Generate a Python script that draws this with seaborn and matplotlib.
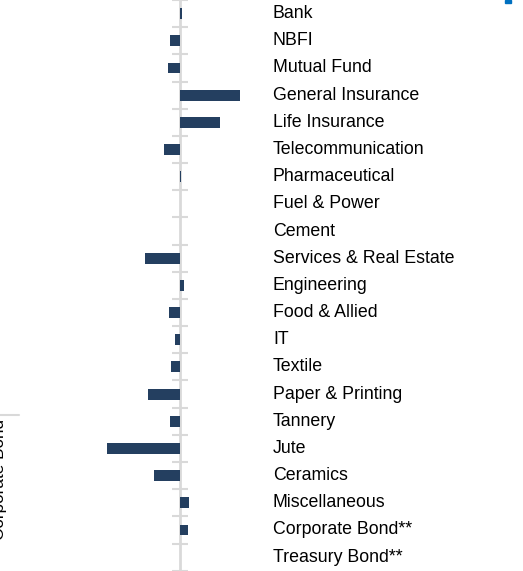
import matplotlib
matplotlib.use('Agg')
import matplotlib.pyplot as plt
import matplotlib.transforms as mtransforms
from matplotlib.patches import Rectangle
import pandas as pd
import seaborn as sns

sectors = ['Bank', 'NBFI', 'Mutual Fund', 'General Insurance', 'Life Insurance',
           'Telecommunication', 'Pharmaceutical', 'Fuel & Power', 'Cement',
           'Services & Real Estate', 'Engineering', 'Food & Allied', 'IT', 'Textile',
           'Paper & Printing', 'Tannery', 'Jute', 'Ceramics', 'Miscellaneous',
           'Corporate Bond**', 'Treasury Bond**']
change = [0.2, -1.0, -1.2, 6.0, 4.0, -1.6, 0.05, 0.0, 0.0, -3.5, 0.4, -1.1, -0.5,
          -0.9, -3.2, -1.0, -7.3, -2.6, 0.9, 0.8, 0.0]

df = pd.DataFrame({'Sector': sectors, 'Change': change})

sns.set_style('white')
plt.rcParams['font.family'] = ['Liberation Sans', 'DejaVu Sans']

fig = plt.figure(figsize=(5.23, 5.71), dpi=100)
ax = fig.add_axes([0, 0, 1, 1])

sns.barplot(data=df, y='Sector', x='Change', orient='h', color='#243F60',
            width=0.4, saturation=1, linewidth=0, ax=ax)

ax.set_xlim(-18, 34.3)
ax.set_ylim(20.51, -0.33)

for s in ['top', 'right', 'bottom']:
    ax.spines[s].set_visible(False)
ax.spines['left'].set_position(('data', 0))
ax.spines['left'].set_color('#d9d9d9')
ax.spines['left'].set_linewidth(2)
ax.spines['left'].set_zorder(0)

# gray cross ticks sit between the categories
ax.set_yticks([i + 0.5 for i in range(-1, len(sectors))])
ax.set_yticklabels([])
ax.tick_params(axis='y', left=True, direction='inout', length=11, width=1.5,
               color='#d9d9d9')
ax.set_xticks([])
ax.set_xlabel('')
ax.set_ylabel('')

trans = mtransforms.blended_transform_factory(ax.transAxes, ax.transData)
for i, name in enumerate(sectors):
    ax.text(273 / 523, i, name, transform=trans, ha='left', va='center',
            fontsize=12.8, color='#000000')

# leftover pieces of the surrounding layout
fig.add_artist(plt.Line2D([0, 19 / 523], [1 - 415 / 571] * 2, color='#d9d9d9',
                          linewidth=1.5, transform=fig.transFigure))
fig.text(0, 1 - 480 / 571, 'Corporate Bond', rotation=90, ha='center',
         va='center', fontsize=12.3, color='#000000')
fig.add_artist(Rectangle((505 / 523, 1 - 3 / 571), 6 / 523, 3 / 571,
                         color='#0070C0', transform=fig.transFigure))

fig.savefig('out.png', dpi=100)
